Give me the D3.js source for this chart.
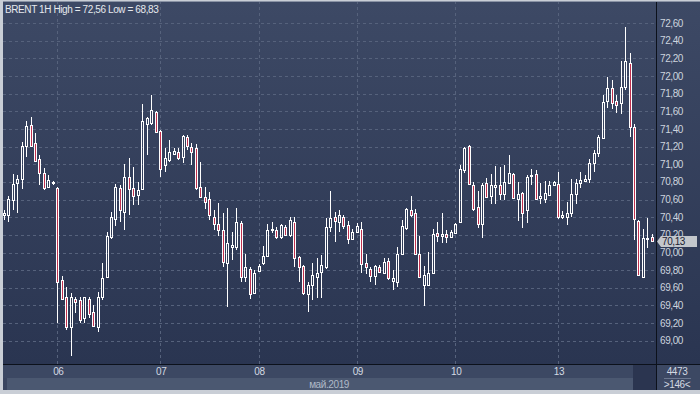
<!DOCTYPE html>
<html><head><meta charset="utf-8">
<script src="https://cdn.jsdelivr.net/npm/d3@7"></script>
<style>html,body{margin:0;padding:0;background:#c9ced6;}svg{display:block;}</style>
</head><body>
<svg id="c" width="700" height="394"></svg>
<script>
const opens = [70.43,70.42,70.60,70.79,70.83,71.21,71.45,71.24,71.06,70.90,70.74,70.79,70.73,69.69,69.50,69.16,69.47,69.46,69.26,69.47,69.32,69.16,69.49,69.72,70.18,70.38,70.73,70.46,70.86,70.73,70.65,70.72,71.46,71.47,71.59,71.38,70.99,71.05,71.12,71.14,71.08,71.31,71.20,71.18,70.74,70.63,70.61,70.40,70.32,70.25,69.88,70.06,70.06,70.34,69.72,69.81,69.54,69.79,69.88,69.96,70.25,70.26,70.18,70.29,70.20,70.35,69.95,69.85,69.53,69.63,69.72,69.78,69.84,70.29,70.40,70.35,70.40,70.31,70.15,70.23,70.27,69.88,69.81,69.73,69.84,69.77,69.90,69.68,69.67,69.98,70.28,70.48,70.45,69.98,69.63,69.63,69.77,70.22,70.19,70.21,70.18,70.22,70.35,70.93,71.21,70.77,70.52,70.32,70.79,70.64,70.74,70.77,70.66,70.79,70.89,70.61,70.68,70.48,70.87,70.89,70.62,70.61,70.65,70.76,70.78,70.40,70.40,70.45,70.66,70.79,70.81,70.83,71.02,71.13,71.30,71.72,71.87,71.72,71.69,71.88,72.15,71.42,70.36,69.72,70.15,70.18];
const highs = [70.48,70.64,70.89,70.88,71.25,71.49,71.54,71.35,71.11,70.96,70.88,70.81,70.74,69.73,69.61,69.54,69.50,69.50,69.50,69.49,69.41,69.55,69.88,70.23,70.46,70.78,70.76,71.00,71.07,70.97,70.80,71.68,71.54,71.79,71.60,71.39,71.19,71.28,71.19,71.19,71.33,71.33,71.24,71.23,71.03,70.74,70.69,70.48,70.56,70.45,70.51,70.23,70.51,70.36,69.98,69.84,69.80,69.87,70.07,70.32,70.35,70.29,70.32,70.31,70.40,70.40,69.96,69.86,69.66,69.88,69.94,69.97,70.39,70.70,70.46,70.48,70.43,70.36,70.27,70.34,70.35,69.98,69.83,69.86,69.86,69.94,69.94,69.80,70.06,70.37,70.51,70.64,70.49,70.19,69.85,70.01,70.27,70.35,70.45,70.26,70.25,70.33,70.99,71.20,71.22,70.80,70.70,70.79,70.85,70.89,70.98,70.97,70.99,71.10,70.90,70.80,70.69,70.88,70.95,70.94,70.79,70.81,70.81,70.81,70.91,70.47,70.57,70.83,70.83,70.91,70.88,71.06,71.16,71.33,71.79,71.99,71.96,71.79,72.17,72.56,72.26,71.46,70.37,70.27,70.39,70.21];
const lows = [70.37,70.35,70.48,70.45,70.72,71.08,71.20,71.03,70.77,70.71,70.73,70.77,69.20,69.46,69.12,68.83,69.31,69.20,69.20,69.26,69.16,69.10,69.46,69.71,70.15,70.30,70.35,70.25,70.43,70.54,70.54,70.71,71.11,71.45,71.36,70.86,70.91,71.03,71.10,71.05,71.02,71.16,70.99,70.71,70.62,70.49,70.37,70.26,70.19,69.84,69.38,69.92,70.03,69.67,69.66,69.47,69.53,69.78,69.86,69.95,70.22,70.15,70.15,70.19,70.18,69.84,69.66,69.52,69.33,69.46,69.48,69.48,69.81,70.23,70.12,70.23,70.27,70.10,70.14,70.22,69.77,69.76,69.66,69.63,69.77,69.76,69.69,69.58,69.61,69.97,70.26,70.40,69.97,69.71,69.39,69.62,69.76,70.12,70.11,70.11,70.17,70.22,70.34,70.90,70.77,70.47,70.28,70.17,70.62,70.55,70.55,70.60,70.60,70.78,70.61,70.36,70.28,70.34,70.77,70.60,70.55,70.56,70.64,70.75,70.38,70.38,70.31,70.40,70.55,70.73,70.80,70.79,70.91,71.08,71.29,71.64,71.63,71.58,71.57,71.84,71.31,70.14,69.73,69.72,70.05,70.12];
const closes = [70.45,70.61,70.78,70.83,71.21,71.44,71.21,71.04,70.90,70.73,70.82,70.80,69.66,69.47,69.16,69.49,69.44,69.24,69.49,69.30,69.17,69.49,69.71,70.19,70.40,70.74,70.48,70.86,70.72,70.64,70.71,71.49,71.52,71.62,71.37,70.95,71.07,71.14,71.15,71.07,71.32,71.21,71.14,70.73,70.63,70.57,70.42,70.32,70.25,69.89,70.11,70.09,70.35,69.72,69.83,69.53,69.77,69.85,69.96,70.25,70.27,70.18,70.31,70.20,70.37,69.94,69.84,69.54,69.63,69.75,69.77,69.86,70.29,70.39,70.36,70.42,70.30,70.15,70.23,70.30,69.87,69.83,69.73,69.85,69.78,69.89,69.71,69.71,69.98,70.30,70.49,70.42,69.98,69.72,69.75,69.77,70.21,70.19,70.21,70.18,70.23,70.32,70.95,71.19,70.78,70.49,70.32,70.77,70.63,70.77,70.77,70.66,70.80,70.90,70.62,70.66,70.45,70.86,70.88,70.61,70.64,70.68,70.76,70.80,70.40,70.43,70.45,70.66,70.79,70.82,70.83,71.02,71.13,71.31,71.71,71.86,71.70,71.67,71.88,72.17,71.42,70.38,69.75,70.17,70.16,70.13];
const dayLabels = ["06","07","08","09","10","13"];
const dayStarts = [12,35,57,79,101,124];
const yTicks = [69.0,69.2,69.4,69.6,69.8,70.0,70.2,70.4,70.6,70.8,71.0,71.2,71.4,71.6,71.8,72.0,72.2,72.4,72.6];
const title = "BRENT 1H High = 72,56 Low = 68,83";
const monthLabel = "май.2019";
const volumeText = "4473";
const barsText = ">146<";
const lastPrice = 70.13;

const svg = d3.select("#c");
const W = 700, H = 394;
const plotL = 3, plotR = 656, plotT = 1, plotB = 364;
const FONT = "'Liberation Sans', Arial, sans-serif";

const defs = svg.append("defs");
const g1 = defs.append("linearGradient").attr("id","bg").attr("x1",0).attr("y1",0).attr("x2",0).attr("y2",1);
g1.append("stop").attr("offset","0%").attr("stop-color","#3d4965");
g1.append("stop").attr("offset","100%").attr("stop-color","#2a3551");
defs.append("clipPath").attr("id","plotclip").append("rect")
  .attr("x",plotL).attr("y",plotT).attr("width",plotR-plotL).attr("height",plotB-plotT);

// frame & backgrounds
svg.append("rect").attr("x",0).attr("y",0).attr("width",W).attr("height",H).attr("fill","#c9ced6");
svg.append("rect").attr("x",plotL).attr("y",plotT).attr("width",W-plotL).attr("height",plotB-plotT).attr("fill","url(#bg)");
// bottom bands
svg.append("rect").attr("x",plotL).attr("y",plotB).attr("width",W-plotL).attr("height",14).attr("fill","#3c4863");
svg.append("rect").attr("x",plotL).attr("y",378).attr("width",plotR-plotL).attr("height",12).attr("fill","#4b5871");
svg.append("rect").attr("x",plotL).attr("y",378).attr("width",4).attr("height",12).attr("fill","#3a4560");
svg.append("rect").attr("x",633).attr("y",plotB+1).attr("width",plotR-633).attr("height",25).attr("fill","#2b3550");
svg.append("rect").attr("x",plotR).attr("y",plotB).attr("width",W-plotR).attr("height",26).attr("fill","#3c4863");

const x = d3.scaleLinear().domain([0, 145]).range([3.7, 651.9]);
const y = d3.scaleLinear().domain([69.0, 72.6]).range([340.7, 23.2]);
const px = v => Math.round(v) + 0.5;

// grid
const grid = svg.append("g").attr("clip-path","url(#plotclip)");
grid.selectAll("line.h").data(yTicks).join("line")
  .attr("x1",plotL).attr("x2",plotR).attr("y1",d=>px(y(d))).attr("y2",d=>px(y(d)))
  .attr("stroke","#56627c").attr("stroke-width",1).attr("stroke-dasharray","3,3");
grid.selectAll("line.v").data(dayStarts).join("line")
  .attr("y1",plotT).attr("y2",plotB).attr("x1",d=>px(x(d))).attr("x2",d=>px(x(d)))
  .attr("stroke","#56627c").attr("stroke-width",1).attr("stroke-dasharray","3,3");

// candles
const data = opens.map((o,i)=>({i, o, h:highs[i], l:lows[i], c:closes[i]}));
const cg = svg.append("g").attr("clip-path","url(#plotclip)");
data.forEach(d=>{
  const cx = Math.round(x(d.i));
  const up = d.c >= d.o;
  const yTop = Math.round(y(Math.max(d.o,d.c)));
  const yBot = Math.round(y(Math.min(d.o,d.c)));
  const yH = Math.round(y(d.h)), yL = Math.round(y(d.l));
  if (yH < yTop) cg.append("line").attr("x1",cx+0.5).attr("x2",cx+0.5).attr("y1",yH).attr("y2",yTop).attr("stroke","#ffffff");
  if (yL > yBot) cg.append("line").attr("x1",cx+0.5).attr("x2",cx+0.5).attr("y1",yBot).attr("y2",yL).attr("stroke","#ffffff");
  cg.append("rect").attr("x",cx-0.5).attr("y",yTop+0.5).attr("width",2).attr("height",Math.max(1,yBot-yTop))
    .attr("fill", up ? "none" : "#c0304e").attr("stroke","#ffffff").attr("stroke-width",1);
});

// axis separators
svg.append("line").attr("x1",plotR+0.5).attr("x2",plotR+0.5).attr("y1",plotT).attr("y2",390).attr("stroke","#0c111b");
svg.append("line").attr("x1",plotL).attr("x2",W).attr("y1",plotB+0.5).attr("y2",plotB+0.5).attr("stroke","#0c111b");
svg.append("line").attr("x1",plotL).attr("x2",W).attr("y1",plotT+0.5).attr("y2",plotT+0.5).attr("stroke","#8a93a5");

// right axis labels
const fmt = v => d3.format(".2f")(v).replace(".", ",");
svg.append("g").selectAll("text").data(yTicks).join("text")
  .attr("x",660).attr("y",d=>y(d)).attr("dy","0.35em")
  .attr("font-family",FONT).attr("font-size",10).attr("letter-spacing",-0.4)
  .attr("fill","#cdd4de").text(fmt);

// last price tag
const ly = Math.round(y(lastPrice)) + 0.5;
svg.append("path").attr("d",`M657,${ly} L661,${ly-5.5} L697,${ly-5.5} L697,${ly+5.5} L661,${ly+5.5} Z`)
  .attr("fill","#c3c7cc");
svg.append("text").attr("x",662).attr("y",ly).attr("dy","0.36em")
  .attr("font-family",FONT).attr("font-size",10).attr("letter-spacing",-0.4).attr("fill","#1b2130").text(fmt(lastPrice));

// title
svg.append("text").attr("x",5).attr("y",13).attr("font-family",FONT).attr("font-size",10).attr("letter-spacing",-0.4)
  .attr("fill","#e6e9ee").text(title);

// day labels
svg.append("g").selectAll("text").data(dayLabels).join("text")
  .attr("x",(d,k)=>x(dayStarts[k])+1).attr("y",371.5).attr("dy","0.35em").attr("text-anchor","middle")
  .attr("font-family",FONT).attr("font-size",10).attr("letter-spacing",-0.4).attr("fill","#d3d9e2").text(d=>d);
svg.append("text").attr("x",349).attr("y",384.5).attr("dy","0.35em").attr("text-anchor","end")
  .attr("font-family",FONT).attr("font-size",10).attr("letter-spacing",-0.4).attr("fill","#b0bac8").text(monthLabel);

// bottom-right info
svg.append("text").attr("x",677).attr("y",371.5).attr("dy","0.35em").attr("text-anchor","middle")
  .attr("font-family",FONT).attr("font-size",10).attr("letter-spacing",-0.4).attr("fill","#d3d9e2").text(volumeText);
svg.append("line").attr("x1",664).attr("x2",691).attr("y1",378.5).attr("y2",378.5).attr("stroke","#6b7790");
svg.append("text").attr("x",677).attr("y",384.5).attr("dy","0.35em").attr("text-anchor","middle")
  .attr("font-family",FONT).attr("font-size",10).attr("letter-spacing",-0.4).attr("fill","#d3d9e2").text(barsText);
</script>
</body></html>
